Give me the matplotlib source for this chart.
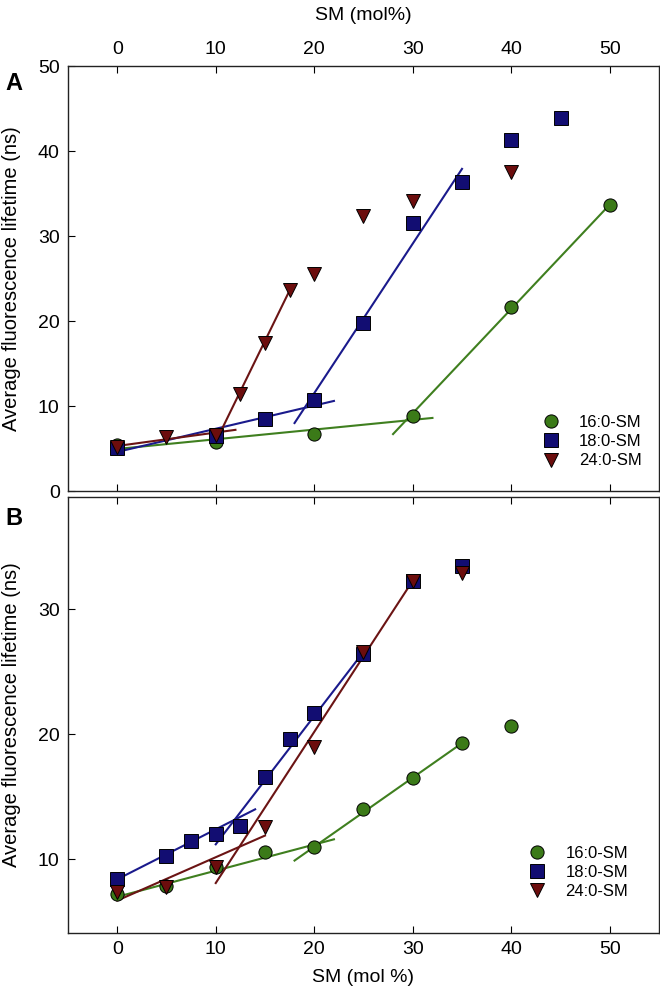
import matplotlib
import matplotlib.pyplot as plt

matplotlib.use("agg")
plt.rcParams["font.family"] = ["Liberation Sans", "DejaVu Sans"]

# panel A data (SM mol%, lifetime ns)
a16_x = [0, 10, 20, 30, 40, 50]
a16_y = [5.4, 5.8, 6.7, 8.8, 21.7, 33.7]
a18_x = [0, 10, 15, 20, 25, 30, 35, 40, 45]
a18_y = [5.1, 6.5, 8.5, 10.7, 19.8, 31.5, 36.4, 41.3, 43.9]
a24_x = [0, 5, 10, 12.5, 15, 17.5, 20, 25, 30, 40]
a24_y = [5.2, 6.4, 6.6, 11.4, 17.4, 23.6, 25.5, 32.3, 34.1, 37.5]

# panel A fitted segments: (x0, x1), (y0, y1)
a16_fits = [((0, 32), (4.95, 8.6)), ((28, 50), (6.7, 33.7))]
a18_fits = [((0, 22), (4.6, 10.6)), ((18, 35), (8.0, 37.9))]
a24_fits = [((0, 12), (5.3, 7.2)), ((10, 17.5), (5.8, 23.6))]

# panel B data
b16_x = [0, 5, 10, 15, 20, 25, 30, 35, 40]
b16_y = [7.2, 7.9, 9.35, 10.6, 11.0, 14.0, 16.5, 19.3, 20.7]
b18_x = [0, 5, 7.5, 10, 12.5, 15, 17.5, 20, 25, 30, 35]
b18_y = [8.45, 10.3, 11.5, 12.0, 12.7, 16.6, 19.6, 21.7, 26.4, 32.3, 33.5]
b24_x = [0, 5, 10, 15, 20, 25, 30, 35]
b24_y = [7.4, 7.8, 9.4, 12.6, 19.0, 26.6, 32.3, 32.9]

b16_fits = [((0, 22), (7.0, 11.6)), ((18, 35), (9.9, 19.3))]
b18_fits = [((0, 14), (8.4, 14.0)), ((10, 25), (11.2, 26.6))]
b24_fits = [((0, 15), (6.7, 11.9)), ((10, 30), (8.1, 32.3))]

labels = ["16:0-SM", "18:0-SM", "24:0-SM"]
markers = ["o", "s", "v"]
fills = ["#3b7a18", "#120d72", "#6c0d0d"]
lines = ["#3f7f1f", "#1a1a8c", "#6b1414"]

x_ticks = [0, 10, 20, 30, 40, 50]


def draw_panel(ax, series, fits):
    for (xs, ys), segs, lab, m, fc, lc in zip(series, fits, labels, markers, fills, lines):
        for sx, sy in segs:
            ax.plot(sx, sy, color=lc, lw=1.5, zorder=2)
        ax.plot(xs, ys, ls="none", marker=m, ms=9.5, mfc=fc, mec="black",
                mew=0.7, label=lab, zorder=3)
    ax.set_xlim(-5, 55)
    ax.set_xticks(x_ticks)
    ax.tick_params(direction="in", top=True, bottom=True, right=False,
                   labelsize=14, length=5, width=0.8, pad=6)
    for sp in ax.spines.values():
        sp.set_linewidth(1.0)
        sp.set_color("#222222")
    ax.set_ylabel("Average fluorescence lifetime (ns)", fontsize=14.5)


fig = plt.figure(figsize=(6.6, 9.93), dpi=100)
ax1 = fig.add_axes([0.103, 0.5055, 0.8955, 0.428])
ax2 = fig.add_axes([0.103, 0.0604, 0.8955, 0.4391])

draw_panel(ax1, [(a16_x, a16_y), (a18_x, a18_y), (a24_x, a24_y)],
           [a16_fits, a18_fits, a24_fits])
ax1.set_ylim(0, 50)
ax1.set_yticks([0, 10, 20, 30, 40, 50])
ax1.tick_params(labelbottom=False, labeltop=True)
ax1.xaxis.set_label_position("top")
ax1.set_xlabel("SM (mol%)", fontsize=14, labelpad=15)
ax1.legend(loc="center left", bbox_to_anchor=(0.803, 0.116), frameon=False,
           fontsize=12, handlelength=1.0, handletextpad=1.2,
           labelspacing=0.25, borderpad=0, borderaxespad=0)

draw_panel(ax2, [(b16_x, b16_y), (b18_x, b18_y), (b24_x, b24_y)],
           [b16_fits, b18_fits, b24_fits])
ax2.set_ylim(4.1, 39)
ax2.set_yticks([10, 20, 30])
ax2.set_xlabel("SM (mol %)", fontsize=14, labelpad=8)
ax2.legend(loc="center left", bbox_to_anchor=(0.7795, 0.139), frameon=False,
           fontsize=12, handlelength=1.0, handletextpad=1.2,
           labelspacing=0.25, borderpad=0, borderaxespad=0)

for ax in (ax1, ax2):
    ax.yaxis.set_label_coords(-0.08, 0.5)

fig.text(0.021, 0.916, "A", fontsize=17, fontweight="bold", ha="center", va="center")
fig.text(0.021, 0.478, "B", fontsize=17, fontweight="bold", ha="center", va="center")

fig.savefig("out.png", dpi=100)
plt.close(fig)
